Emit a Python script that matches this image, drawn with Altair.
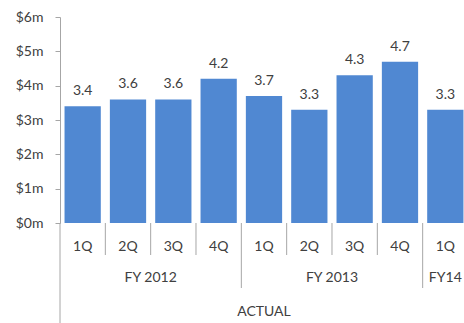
import altair as alt
import pandas as pd

quarters = ["1Q", "2Q", "3Q", "4Q", "1Q", "2Q", "3Q", "4Q", "1Q"]
fiscal_years = ["FY 2012", "FY 2012", "FY 2012", "FY 2012",
                "FY 2013", "FY 2013", "FY 2013", "FY 2013", "FY14"]
revenue = [3.4, 3.6, 3.6, 4.2, 3.7, 3.3, 4.3, 4.7, 3.3]
period_label = "ACTUAL"
y_ticks = [0, 1, 2, 3, 4, 5, 6]

BAR_PAD = 0.1
AXIS_GRAY = "#a6a6a6"
TEXT = "#404040"
FONT = "Lato"

df = pd.DataFrame({"quarter": quarters, "fy": fiscal_years, "value": revenue})
df["idx"] = range(len(df))
df["start"] = df["idx"] + BAR_PAD
df["end"] = df["idx"] + 1 - BAR_PAD
df["center"] = df["idx"] + 0.5

prev_fy = df["fy"].shift(1)
sep = df[df["idx"] > 0].copy()
sep["fy_change"] = sep["fy"] != prev_fy[sep.index]
short_sep = sep[~sep["fy_change"]][["idx"]]
long_sep = sep[sep["fy_change"]][["idx"]]

fy_df = df.groupby("fy", sort=False).agg(first=("idx", "min"), last=("idx", "max")).reset_index()
fy_df["center"] = (fy_df["first"] + fy_df["last"] + 1) / 2

period_df = pd.DataFrame({"label": [period_label], "center": [len(df) / 2], "left": [0]})

x_scale = alt.Scale(domain=[0, 8.912], nice=False, zero=False)
y_scale = alt.Scale(domain=[0, 6], nice=False)

y_axis = alt.Axis(values=y_ticks, labelExpr="'$' + datum.value + 'm'", grid=False,
                  domainColor=AXIS_GRAY, tickColor=AXIS_GRAY, tickSize=5, labelPadding=12,
                  labelFont=FONT, labelFontSize=14, labelColor=TEXT, title=None,
                  labelOverlap=False, tickCount=7)

bars = alt.Chart(df).mark_bar(color="#5088d2", clip=True).encode(
    x=alt.X("start:Q", scale=x_scale, axis=None),
    x2="end:Q",
    y=alt.Y("value:Q", scale=y_scale, axis=y_axis),
    y2=alt.datum(0),
)

labels = alt.Chart(df).mark_text(baseline="alphabetic", dy=-11, font=FONT, fontSize=14, color=TEXT).encode(
    x=alt.X("center:Q", scale=x_scale, axis=None),
    y=alt.Y("value:Q", scale=y_scale, axis=y_axis),
    text=alt.Text("value:Q", format=".1f"),
)

short_rules = alt.Chart(short_sep).mark_rule(color=AXIS_GRAY).encode(
    x=alt.X("idx:Q", scale=x_scale, axis=None), y=alt.value(206), y2=alt.value(238))
long_rules = alt.Chart(long_sep).mark_rule(color=AXIS_GRAY).encode(
    x=alt.X("idx:Q", scale=x_scale, axis=None), y=alt.value(206), y2=alt.value(271))
left_rule = alt.Chart(period_df).mark_rule(color=AXIS_GRAY).encode(
    x=alt.X("left:Q", scale=x_scale, axis=None), y=alt.value(206), y2=alt.value(306))

q_text = alt.Chart(df).mark_text(baseline="middle", font=FONT, fontSize=14, color=TEXT).encode(
    x=alt.X("center:Q", scale=x_scale, axis=None), y=alt.value(230), text="quarter:N")
fy_text = alt.Chart(fy_df).mark_text(baseline="middle", font=FONT, fontSize=14, color=TEXT).encode(
    x=alt.X("center:Q", scale=x_scale, axis=None), y=alt.value(261), text="fy:N")
p_text = alt.Chart(period_df).mark_text(baseline="middle", font=FONT, fontSize=14, color=TEXT).encode(
    x=alt.X("center:Q", scale=x_scale, axis=None), y=alt.value(295), text="label:N")

chart = alt.layer(bars, labels, short_rules, long_rules, left_rule, q_text, fy_text, p_text).properties(
    width=404, height=206,
    padding={"left": 60, "top": 17, "right": 0, "bottom": 100},
    autosize=alt.AutoSizeParams(type="none"),
    background="white",
).configure_view(stroke=None)

chart.save("out.html", embed_options={"renderer": "svg", "actions": False})
